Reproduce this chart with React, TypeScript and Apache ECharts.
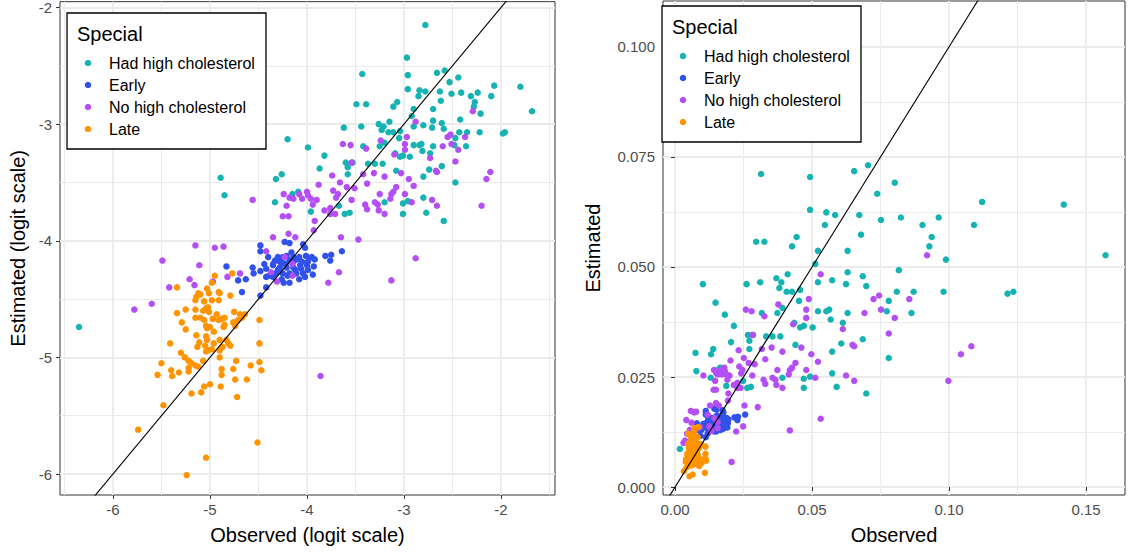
import React, { useEffect, useRef } from "react";
import * as echarts from "echarts";

const groupNames = ["Had high cholesterol", "Early", "No high cholesterol", "Late"];
const groupColors = ["#16B3B3", "#3152EA", "#B44FF6", "#FF9400"];

// logit-scale (observed, estimated) pairs
const hadHighCholesterol: number[][] = [
  [-2.78,-2.15],[-2.97,-2.43],[-2.96,-2.58],[-3.43,-2.57],[-2.66,-2.56],[-2.58,-2.54],[-2.53,-2.64],[-2.44,-2.60],
  [-2.96,-2.70],[-2.84,-2.71],[-2.78,-2.72],[-2.85,-2.76],[-2.63,-2.72],[-2.51,-2.74],[-2.41,-2.73],[-2.31,-2.76],
  [-2.24,-2.73],[-2.07,-2.67],[-1.80,-2.68],[-2.10,-2.76],[-2.62,-2.80],[-2.27,-2.81],[-2.28,-2.85],[-2.21,-2.91],
  [-1.68,-2.89],[-3.49,-2.83],[-3.39,-2.83],[-3.11,-2.85],[-3.07,-2.81],[-2.90,-2.87],[-2.92,-2.93],[-2.70,-2.87],
  [-2.42,-2.96],[-3.26,-3.00],[-3.15,-2.98],[-3.21,-3.02],[-3.23,-3.05],[-3.16,-3.07],[-3.11,-3.07],[-3.62,-3.03],
  [-3.44,-3.02],[-2.90,-3.02],[-2.80,-3.01],[-2.70,-2.97],[-2.61,-2.99],[-2.59,-3.04],[-2.71,-3.03],[-3.05,-3.12],
  [-3.04,-3.06],[-2.43,-3.07],[-2.35,-3.07],[-2.22,-3.07],[-1.98,-3.08],[-1.96,-3.07],[-4.20,-3.13],[-3.99,-3.20],
  [-3.42,-3.19],[-3.25,-3.19],[-3.20,-3.16],[-2.90,-3.18],[-2.84,-3.18],[-2.82,-3.17],[-2.81,-3.23],[-2.73,-3.25],
  [-2.70,-3.19],[-2.47,-3.12],[-2.48,-3.18],[-2.36,-3.19],[-3.82,-3.27],[-3.60,-3.33],[-3.53,-3.33],[-3.58,-3.37],
  [-3.58,-3.43],[-3.37,-3.34],[-3.30,-3.34],[-3.22,-3.34],[-3.09,-3.25],[-3.04,-3.28],[-3.01,-3.27],[-2.94,-3.28],
  [-3.87,-3.38],[-3.08,-3.40],[-2.74,-3.39],[-2.80,-3.45],[-2.61,-3.36],[-2.47,-3.50],[-4.89,-3.46],[-4.85,-3.61],
  [-4.26,-3.43],[-4.32,-3.47],[-4.33,-3.67],[-4.15,-3.60],[-4.09,-3.58],[-3.96,-3.75],[-3.67,-3.70],[-3.61,-3.77],
  [-3.56,-3.76],[-3.20,-3.67],[-3.01,-3.68],[-2.96,-3.66],[-3.01,-3.77],[-2.77,-3.76],[-2.80,-3.63],[-2.59,-3.83],
  [-6.35,-4.74],[-4.58,-3.03]
];

const early: number[][] = [
  [-4.48,-4.04],[-4.48,-4.09],[-4.40,-4.14],[-4.44,-4.20],[-4.83,-4.22],[-4.56,-4.23],[-4.55,-4.28],[-4.48,-4.26],
  [-4.35,-4.20],[-4.30,-4.14],[-4.25,-4.14],[-4.21,-4.13],[-4.18,-4.17],[-4.14,-4.14],[-4.08,-4.14],[-4.04,-4.03],
  [-4.01,-4.13],[-3.98,-4.15],[-3.95,-4.14],[-3.92,-4.16],[-3.81,-4.13],[-3.75,-4.12],[-3.76,-4.17],[-3.64,-4.09],
  [-4.42,-4.24],[-4.35,-4.21],[-4.28,-4.23],[-4.21,-4.23],[-4.14,-4.23],[-4.07,-4.21],[-4.00,-4.21],[-3.93,-4.22],
  [-4.39,-4.30],[-4.32,-4.28],[-4.25,-4.28],[-4.18,-4.28],[-4.11,-4.28],[-4.04,-4.28],[-3.99,-4.25],[-3.94,-4.29],
  [-4.42,-4.31],[-4.35,-4.31],[-4.26,-4.33],[-4.24,-4.36],[-4.18,-4.36],[-4.08,-4.33],[-4.02,-4.31],[-4.71,-4.34],
  [-4.63,-4.33],[-4.67,-4.44],[-4.42,-4.40],[-4.48,-4.47],[-4.23,-4.01],[-4.18,-4.02],[-4.28,-4.18],[-4.22,-4.20],
  [-4.14,-4.18],[-4.05,-4.18],[-3.99,-4.18],[-4.02,-4.06],[-4.30,-4.25],[-4.12,-4.25],[-4.20,-4.30],[-4.10,-4.16],
  [-4.25,-4.19],[-4.33,-4.17],[-4.16,-4.10],[-4.06,-4.24]
];

const noHighCholesterol: number[][] = [
  [-2.88,-2.98],[-2.29,-2.89],[-2.55,-3.11],[-2.52,-3.09],[-2.37,-3.11],[-2.97,-3.11],[-3.10,-3.26],[-2.99,-3.17],
  [-2.99,-3.22],[-3.39,-3.21],[-3.63,-3.17],[-3.55,-3.18],[-3.54,-3.33],[-3.24,-3.14],[-2.60,-3.19],[-2.51,-3.17],
  [-2.73,-3.29],[-2.47,-3.32],[-2.44,-3.22],[-3.31,-3.42],[-3.20,-3.45],[-3.42,-3.43],[-3.03,-3.42],[-2.95,-3.47],
  [-2.90,-3.53],[-2.67,-3.40],[-2.66,-3.41],[-3.74,-3.44],[-3.88,-3.52],[-3.66,-3.50],[-3.68,-3.60],[-3.51,-3.55],
  [-3.73,-3.57],[-3.70,-3.63],[-3.54,-3.65],[-4.56,-3.65],[-4.24,-3.60],[-4.18,-3.63],[-4.08,-3.60],[-4.00,-3.58],
  [-3.99,-3.61],[-3.96,-3.64],[-3.90,-3.65],[-4.05,-3.64],[-3.94,-3.69],[-3.11,-3.58],[-3.13,-3.60],[-3.25,-3.60],
  [-3.14,-3.64],[-2.99,-3.60],[-2.92,-3.67],[-2.71,-3.65],[-2.66,-3.70],[-2.20,-3.70],[-2.15,-3.47],[-2.11,-3.41],
  [-3.40,-3.69],[-3.38,-3.73],[-3.30,-3.67],[-3.27,-3.69],[-3.26,-3.74],[-3.20,-3.77],[-3.76,-3.72],[-3.76,-3.77],
  [-3.82,-3.74],[-3.71,-3.77],[-4.21,-3.70],[-4.25,-3.79],[-4.19,-3.79],[-3.92,-3.83],[-3.08,-3.54],[-3.59,-3.54],
  [-4.14,-3.64],[-3.38,-3.51],
  [-4.35,-3.97],[-4.19,-3.94],[-4.12,-3.97],[-3.93,-3.91],[-3.65,-3.97],[-3.47,-3.99],[-5.15,-4.04],[-4.95,-4.06],
  [-4.86,-4.05],[-5.49,-4.17],[-5.11,-4.21],[-2.88,-4.15],[-4.42,-4.09],[-4.23,-4.14],[-4.15,-4.20],[-4.37,-4.27],
  [-4.31,-4.35],[-4.15,-4.30],[-3.67,-4.27],[-3.78,-4.36],[-3.13,-4.34],[-4.69,-4.28],[-4.82,-4.31],[-5.21,-4.33],
  [-5.16,-4.38],[-4.97,-4.35],[-5.42,-4.40],[-5.60,-4.54],[-5.78,-4.59],[-3.86,-5.16]
];

const late: number[][] = [
  [-4.95,-4.30],[-4.77,-4.28],[-4.98,-4.36],[-5.34,-4.40],[-5.10,-4.46],[-5.03,-4.41],[-5.01,-4.45],[-4.91,-4.44],
  [-4.90,-4.45],[-4.79,-4.47],[-5.15,-4.51],[-5.14,-4.48],[-5.12,-4.45],[-5.06,-4.52],[-4.98,-4.51],[-4.91,-4.51],
  [-5.02,-4.57],[-5.04,-4.58],[-5.34,-4.62],[-5.25,-4.59],[-5.15,-4.59],[-5.01,-4.61],[-4.93,-4.63],[-4.75,-4.61],
  [-4.69,-4.63],[-4.64,-4.63],[-4.67,-4.66],[-4.71,-4.68],[-4.76,-4.70],[-4.88,-4.67],[-4.85,-4.66],[-4.91,-4.68],
  [-4.97,-4.67],[-5.15,-4.66],[-5.10,-4.66],[-5.06,-4.68],[-5.04,-4.73],[-5.00,-4.74],[-5.03,-4.75],[-4.96,-4.78],
  [-4.86,-4.74],[-4.85,-4.72],[-4.74,-4.73],[-4.49,-4.68],[-5.29,-4.70],[-5.25,-4.76],[-5.14,-4.81],[-5.04,-4.82],
  [-5.03,-4.85],[-5.11,-4.87],[-5.13,-4.91],[-5.05,-4.90],[-4.96,-4.88],[-4.90,-4.85],[-4.83,-4.85],[-4.81,-4.88],
  [-4.79,-4.90],[-4.87,-4.91],[-4.90,-4.94],[-5.41,-4.88],[-5.04,-4.95],[-5.02,-4.94],[-4.49,-4.88],[-5.30,-4.96],
  [-5.26,-5.00],[-5.22,-5.03],[-5.19,-5.05],[-5.15,-5.07],[-5.12,-5.08],[-5.07,-5.03],[-4.90,-5.00],[-4.73,-5.03],
  [-4.49,-5.04],[-5.50,-5.05],[-5.54,-5.15],[-5.40,-5.11],[-5.39,-5.16],[-5.32,-5.13],[-5.22,-5.09],[-5.22,-5.12],
  [-4.88,-5.10],[-4.88,-5.15],[-4.76,-5.10],[-4.58,-5.07],[-4.47,-5.11],[-4.74,-5.19],[-4.62,-5.19],[-5.06,-5.25],
  [-5.00,-5.23],[-4.89,-5.25],[-5.09,-5.30],[-5.19,-5.31],[-4.72,-5.34],[-5.48,-5.41],[-5.74,-5.62],[-4.51,-5.73],
  [-5.04,-5.86],[-5.24,-6.01],[-5.07,-4.60],[-4.98,-4.93]
];

const groups = [hadHighCholesterol, early, noHighCholesterol, late];

// axis ranges and ticks
const leftRange = { xMin: -6.546, xMax: -1.443, yMin: -6.18, yMax: -1.95 };
const leftXTicks = [-6, -5, -4, -3, -2];
const leftXMinor = [-6.5, -5.5, -4.5, -3.5, -2.5, -1.5];
const leftYTicks = [-6, -5, -4, -3, -2];
const leftYMinor = [-5.5, -4.5, -3.5, -2.5];
const rightRange = { xMin: -0.0044, xMax: 0.1642, yMin: -0.0018, yMax: 0.1104 };
const rightXTicks = [0, 0.05, 0.1, 0.15];
const rightXMinor = [0.025, 0.075, 0.125];
const rightYTicks = [0, 0.025, 0.05, 0.075, 0.1];
const rightYMinor = [0.0125, 0.0375, 0.0625, 0.0875];
const leftIdentity = [-7, 0];
const rightIdentity = [-0.01, 0.2];

const invLogit = (v: number) => 1 / (1 + Math.exp(-v));

const FONT = "'Liberation Sans', Arial, Helvetica, sans-serif";
const GRID_COL = "#EBEBEB";

function minorAxis(gridIndex: number, min: number, max: number, values: number[]) {
  return {
    type: "value", gridIndex, min, max,
    axisLine: { show: false },
    axisTick: { show: false, customValues: values },
    axisLabel: { show: false },
    splitLine: { show: true, lineStyle: { color: GRID_COL, width: 1 } },
  };
}

function majorAxis(gridIndex: number, min: number, max: number, values: number[], fmt: (v: number) => string,
  name: string, nameGap: number, isX: boolean) {
  return {
    type: "value", gridIndex, min, max,
    position: isX ? "bottom" : "left",
    name, nameLocation: "middle", nameGap,
    nameTextStyle: { fontSize: 20, color: "#000", fontFamily: FONT },
    axisLine: { show: false },
    axisTick: { show: true, customValues: values, length: 4, lineStyle: { color: "#333", width: 1 } },
    axisLabel: { show: true, customValues: values, formatter: fmt, color: "#4D4D4D", fontSize: 15, fontFamily: FONT, margin: isX ? 7 : 8 },
    splitLine: { show: true, lineStyle: { color: GRID_COL, width: 1.8 } },
  };
}

function legendGroup(x: number, y: number) {
  const Z = 100;
  const children: any[] = [
    { type: "rect", z: Z, shape: { x: 0, y: 0, width: 199, height: 136 }, style: { fill: "#fff", stroke: "#000", lineWidth: 1.3 } },
    { type: "text", z: Z + 1, x: 10, y: 21, style: { text: "Special", fontSize: 20, fontFamily: FONT, fill: "#000", verticalAlign: "middle" } },
  ];
  groupNames.forEach((n, i) => {
    children.push({ type: "circle", z: Z + 1, shape: { cx: 21, cy: 50 + 22 * i, r: 3.3 }, style: { fill: groupColors[i] } });
    children.push({ type: "text", z: Z + 1, x: 42, y: 50 + 22 * i, style: { text: n, fontSize: 16, fontFamily: FONT, fill: "#000", verticalAlign: "middle" } });
  });
  return { type: "group", x, y, z: Z, zlevel: 0, children };
}

export default function App() {
  const ref = useRef<HTMLDivElement>(null);
  useEffect(() => {
    if (!ref.current) return;
    const chart = echarts.init(ref.current, undefined, { renderer: "svg" });
    const scatterSeries: any[] = [];
    groups.forEach((g, i) => {
      scatterSeries.push({
        type: "scatter", name: groupNames[i], xAxisIndex: 1, yAxisIndex: 1,
        data: g, symbolSize: 6.5, itemStyle: { color: groupColors[i], opacity: 1 }, z: 2,
      });
      scatterSeries.push({
        type: "scatter", name: groupNames[i], xAxisIndex: 3, yAxisIndex: 3,
        data: g.map(p => [invLogit(p[0]), invLogit(p[1])]), symbolSize: 6.5,
        itemStyle: { color: groupColors[i], opacity: 1 }, z: 2,
      });
    });
    const option: any = {
      animation: false,
      backgroundColor: "#fff",
      textStyle: { fontFamily: FONT },
      grid: [
        { left: 60, top: 1, width: 495, height: 494, show: true, borderColor: "#333", borderWidth: 1, backgroundColor: "#fff" },
        { left: 663, top: 1, width: 462, height: 494, show: true, borderColor: "#333", borderWidth: 1, backgroundColor: "#fff" },
      ],
      xAxis: [
        minorAxis(0, leftRange.xMin, leftRange.xMax, leftXMinor),
        majorAxis(0, leftRange.xMin, leftRange.xMax, leftXTicks, v => String(v), "Observed (logit scale)", 30, true),
        minorAxis(1, rightRange.xMin, rightRange.xMax, rightXMinor),
        majorAxis(1, rightRange.xMin, rightRange.xMax, rightXTicks, v => v.toFixed(2), "Observed", 30, true),
      ],
      yAxis: [
        minorAxis(0, leftRange.yMin, leftRange.yMax, leftYMinor),
        majorAxis(0, leftRange.yMin, leftRange.yMax, leftYTicks, v => String(v), "Estimated (logit scale)", 32, false),
        minorAxis(1, rightRange.yMin, rightRange.yMax, rightYMinor),
        majorAxis(1, rightRange.yMin, rightRange.yMax, rightYTicks, v => v.toFixed(3), "Estimated", 60, false),
      ],
      series: [
        ...scatterSeries,
        {
          type: "line", xAxisIndex: 1, yAxisIndex: 1, data: leftIdentity.map(v => [v, v]), symbol: "none",
          lineStyle: { color: "#000", width: 1.1 }, clip: true, z: 5, silent: true,
        },
        {
          type: "line", xAxisIndex: 3, yAxisIndex: 3, data: rightIdentity.map(v => [v, v]), symbol: "none",
          lineStyle: { color: "#000", width: 1.1 }, clip: true, z: 5, silent: true,
        },
      ],
      graphic: [legendGroup(67, 13), legendGroup(662, 6)],
    };
    chart.setOption(option);
    return () => chart.dispose();
  }, []);
  return <div ref={ref} style={{ position: "fixed", left: 0, top: 0, width: 1135, height: 552 }} />;
}
